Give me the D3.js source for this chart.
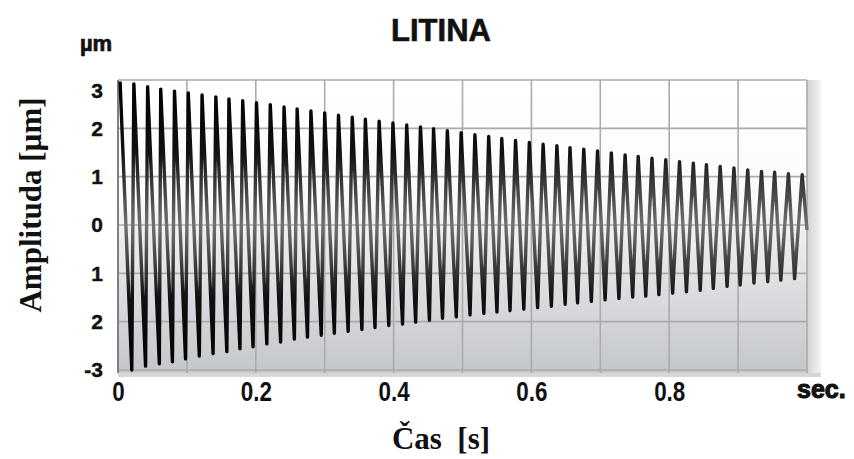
<!DOCTYPE html>
<html>
<head>
<meta charset="utf-8">
<script src="https://cdn.jsdelivr.net/npm/d3@7"></script>
<style>
  body { margin: 0; background: #fff; }
  svg { display: block; }
</style>
</head>
<body>
<div id="container"></div>
<script>
// peaks of the oscillation (time in s, amplitude in µm)
var peakT = [0.003, 0.023, 0.043, 0.062, 0.082, 0.102, 0.122, 0.142, 0.161, 0.181,
             0.201, 0.221, 0.241, 0.260, 0.280, 0.300, 0.320, 0.340, 0.359, 0.379,
             0.399, 0.419, 0.439, 0.458, 0.478, 0.498, 0.518, 0.538, 0.557, 0.577,
             0.597, 0.617, 0.637, 0.656, 0.676, 0.696, 0.716, 0.736, 0.755, 0.775,
             0.795, 0.815, 0.835, 0.854, 0.874, 0.894, 0.914, 0.934, 0.953, 0.973, 0.993];
var peakA = [2.97, 2.92, 2.86, 2.81, 2.77, 2.73, 2.69, 2.65, 2.61, 2.57,
             2.53, 2.49, 2.44, 2.40, 2.36, 2.32, 2.27, 2.23, 2.19, 2.15,
             2.11, 2.07, 2.03, 1.99, 1.95, 1.91, 1.87, 1.83, 1.79, 1.75,
             1.71, 1.67, 1.64, 1.60, 1.57, 1.53, 1.49, 1.45, 1.42, 1.38,
             1.35, 1.31, 1.28, 1.25, 1.21, 1.18, 1.14, 1.11, 1.09, 1.06, 1.04];
// troughs
var troughT = [0.020, 0.040, 0.060, 0.079, 0.098, 0.118, 0.138, 0.158, 0.177, 0.196,
               0.216, 0.236, 0.256, 0.275, 0.295, 0.314, 0.334, 0.354, 0.373, 0.393,
               0.413, 0.432, 0.452, 0.471, 0.491, 0.511, 0.531, 0.550, 0.569, 0.589,
               0.609, 0.629, 0.649, 0.667, 0.687, 0.707, 0.727, 0.747, 0.766, 0.785,
               0.805, 0.825, 0.845, 0.864, 0.884, 0.903, 0.923, 0.943, 0.962, 0.982];
var troughA = [-3.00, -2.92, -2.87, -2.83, -2.77, -2.71, -2.66, -2.62, -2.56, -2.52,
               -2.46, -2.42, -2.36, -2.32, -2.28, -2.24, -2.20, -2.16, -2.12, -2.08,
               -2.05, -2.01, -1.97, -1.93, -1.90, -1.86, -1.83, -1.80, -1.77, -1.74,
               -1.71, -1.68, -1.64, -1.61, -1.58, -1.55, -1.52, -1.49, -1.47, -1.44,
               -1.41, -1.38, -1.35, -1.31, -1.27, -1.24, -1.20, -1.17, -1.14, -1.11];
var endPoint = [1.0, -0.1];

var xTickValues = [0, 0.2, 0.4, 0.6, 0.8];
var xTickLabels = ['0', '0.2', '0.4', '0.6', '0.8'];
var yTickValues = [3, 2, 1, 0, -1, -2, -3];
var yTickLabels = ['3', '2', '1', '0', '1', '2', '-3'];

var w = 854, h = 459;

var svg = d3.select('div#container')
            .append('svg')
            .attr('width', w)
            .attr('height', h);

var x = d3.scaleLinear().domain([0, 1]).range([118, 807]);
var y = d3.scaleLinear().domain([-3, 3]).range([370, 80]);
var frameBottom = -3.06;

var defs = svg.append('defs');

var bg = defs.append('linearGradient')
             .attr('id', 'bgGrad')
             .attr('x1', 0).attr('y1', 0).attr('x2', 0).attr('y2', 1);
bg.append('stop').attr('offset', '0%').attr('stop-color', '#ffffff');
bg.append('stop').attr('offset', '40%').attr('stop-color', '#fbfbfb');
bg.append('stop').attr('offset', '75%').attr('stop-color', '#d8dadd');
bg.append('stop').attr('offset', '100%').attr('stop-color', '#c4c7ca');

var side = defs.append('linearGradient')
               .attr('id', 'sideGrad')
               .attr('x1', 0).attr('y1', 0).attr('x2', 1).attr('y2', 0);
side.append('stop').attr('offset', '0%').attr('stop-color', '#d0d2d4');
side.append('stop').attr('offset', '100%').attr('stop-color', '#f4f4f4');

var lineGrad = defs.append('linearGradient')
                   .attr('id', 'lineGrad')
                   .attr('gradientUnits', 'userSpaceOnUse')
                   .attr('x1', 0).attr('y1', y(3)).attr('x2', 0).attr('y2', y(-3));
lineGrad.append('stop').attr('offset', '0%').attr('stop-color', '#000');
lineGrad.append('stop').attr('offset', '25%').attr('stop-color', '#111');
lineGrad.append('stop').attr('offset', '50%').attr('stop-color', '#707070');
lineGrad.append('stop').attr('offset', '75%').attr('stop-color', '#111');
lineGrad.append('stop').attr('offset', '100%').attr('stop-color', '#000');

// side wall / shadow of the plot box
svg.append('rect')
   .attr('x', x(1)).attr('y', y(3))
   .attr('width', 14)
   .attr('height', y(frameBottom) - y(3) + 4)
   .attr('fill', 'url(#sideGrad)');
svg.append('rect')
   .attr('x', x(0)).attr('y', y(frameBottom))
   .attr('width', x(1) - x(0) + 14)
   .attr('height', 4)
   .attr('fill', '#d4d6d8');

svg.append('rect')
   .attr('x', x(0)).attr('y', y(3))
   .attr('width', x(1) - x(0))
   .attr('height', y(frameBottom) - y(3))
   .attr('fill', 'url(#bgGrad)');

// grid
svg.append('g').selectAll('line.v')
   .data(x.ticks(10))
   .enter().append('line')
   .attr('x1', function(d) { return x(d); })
   .attr('x2', function(d) { return x(d); })
   .attr('y1', y(3)).attr('y2', y(frameBottom))
   .attr('stroke', '#a9abad').attr('stroke-width', 1.6);
svg.append('g').selectAll('line.h')
   .data(yTickValues)
   .enter().append('line')
   .attr('x1', x(0)).attr('x2', x(1))
   .attr('y1', function(d) { return y(d); })
   .attr('y2', function(d) { return y(d); })
   .attr('stroke', '#a9abad').attr('stroke-width', 1.6);
svg.append('line')
   .attr('x1', x(0)).attr('x2', x(0))
   .attr('y1', y(3)).attr('y2', y(frameBottom))
   .attr('stroke', '#808080').attr('stroke-width', 2);

// waveform: alternate peaks and troughs
var pts = [];
for (var i = 0; i < peakT.length; i++) {
    pts.push([peakT[i], peakA[i]]);
    if (i < troughT.length) pts.push([troughT[i], troughA[i]]);
}
pts.push(endPoint);

var line = d3.line()
             .x(function(d) { return x(d[0]); })
             .y(function(d) { return y(d[1]); });

svg.append('path')
   .datum(pts)
   .attr('d', line)
   .attr('fill', 'none')
   .attr('stroke', 'url(#lineGrad)')
   .attr('stroke-width', 3.4)
   .attr('stroke-linejoin', 'round');

// axes
var yAxis = d3.axisLeft(y)
              .tickValues(yTickValues)
              .tickFormat(function(d, i) { return yTickLabels[i]; })
              .tickSize(0)
              .tickPadding(15);
var gy = svg.append('g')
            .attr('transform', 'translate(' + x(0) + ',0)')
            .call(yAxis);
gy.select('.domain').remove();
gy.selectAll('text')
  .style('font-family', '"Liberation Sans", Arial, sans-serif')
  .style('font-weight', 'bold')
  .style('font-size', '21px')
  .attr('fill', '#111')
  .attr('stroke', '#111').attr('stroke-width', 0.4);
gy.selectAll('.tick').filter(function(d) { return d === 3; })
  .select('text').attr('dy', '0.85em');

var xAxis = d3.axisBottom(x)
              .tickValues(xTickValues)
              .tickFormat(function(d, i) { return xTickLabels[i]; })
              .tickSize(0)
              .tickPadding(8);
var gx = svg.append('g')
            .attr('transform', 'translate(0,' + y(frameBottom) + ')')
            .call(xAxis);
gx.select('.domain').remove();
gx.selectAll('text')
  .style('font-family', '"Liberation Sans", Arial, sans-serif')
  .style('font-weight', 'bold')
  .style('font-size', '28px')
  .attr('transform', 'scale(0.8,1)')
  .attr('fill', '#111');

svg.append('text')
   .attr('x', x(1) - 10).attr('y', 398)
   .style('font-family', '"Liberation Sans", Arial, sans-serif')
   .style('font-weight', 'bold')
   .style('font-size', '25px')
   .attr('fill', '#111')
   .attr('stroke', '#111').attr('stroke-width', 1.1)
   .text('sec.');

svg.append('text')
   .attr('x', 96).attr('y', 51)
   .attr('text-anchor', 'middle')
   .style('font-family', '"Liberation Sans", Arial, sans-serif')
   .style('font-weight', 'bold')
   .style('font-size', '22px')
   .attr('fill', '#111')
   .attr('stroke', '#111').attr('stroke-width', 0.7)
   .text('µm');

svg.append('text')
   .attr('x', 441).attr('y', 41)
   .attr('text-anchor', 'middle')
   .style('font-family', '"Liberation Sans", Arial, sans-serif')
   .style('font-weight', 'bold')
   .style('font-size', '31px')
   .attr('fill', '#111')
   .attr('stroke', '#111').attr('stroke-width', 0.6)
   .text('LITINA');

svg.append('text')
   .attr('transform', 'translate(41,205) rotate(-90)')
   .attr('text-anchor', 'middle')
   .style('font-family', '"Liberation Serif", "Times New Roman", serif')
   .style('font-weight', 'bold')
   .style('font-size', '31px')
   .attr('fill', '#111')
   .text('Amplituda [µm]');

svg.append('text')
   .attr('x', 441).attr('y', 449)
   .attr('text-anchor', 'middle')
   .attr('xml:space', 'preserve')
   .style('white-space', 'pre')
   .style('font-family', '"Liberation Serif", "Times New Roman", serif')
   .style('font-weight', 'bold')
   .style('font-size', '31px')
   .attr('fill', '#111')
   .text('Čas  [s]');
</script>
</body>
</html>
